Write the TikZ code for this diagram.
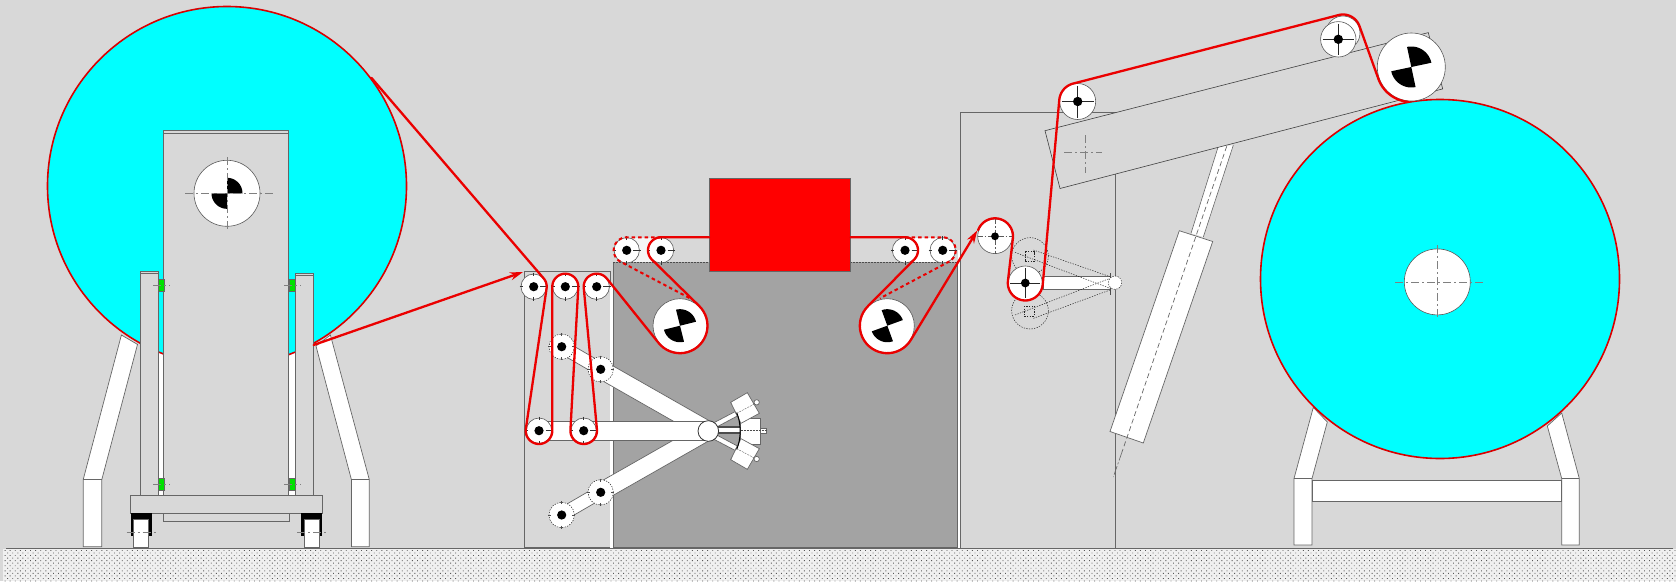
\documentclass[tikz,border=0pt]{standalone}
\usetikzlibrary{arrows.meta,patterns.meta}
\definecolor{bg}{HTML}{D8D8D8}
\definecolor{dark}{HTML}{A3A3A3}
\definecolor{edge}{HTML}{666666}
\definecolor{rollcy}{HTML}{00FFFF}
\definecolor{greenb}{HTML}{00E000}
\tikzset{
 belt/.style={draw=red!92!black,line width=2.3pt,line join=round,line cap=round},
 beltdash/.style={draw=red!92!black,line width=2pt,dash pattern=on 3.5pt off 3pt},
 rollline/.style={draw=red!85!black,line width=1.6pt},
 frame/.style={draw=edge,line width=.9pt},
 thinb/.style={draw=black!65,line width=.6pt},
 center/.style={draw=black!50,line width=.8pt,dash pattern=on 8pt off 3pt on 2pt off 3pt},
 ghost/.style={draw=black!85,line width=.5pt,dash pattern=on 1.3pt off 1.3pt},
 whitef/.style={fill=white,draw=edge,line width=.7pt},
 redarrow/.style={-{Stealth[length=13pt,width=8pt]}}
}
\def\arcs#1#2#3#4#5{plot[domain=#4:#5,samples=26,variable=\t] ({#1+#3*cos(\t)},{#2+#3*sin(\t)})}
\def\arcp#1#2#3#4#5{-- plot[domain=#4:#5,samples=26,variable=\t] ({#1+#3*cos(\t)},{#2+#3*sin(\t)})}
% small roller with outer ticks
\newcommand\rollerT[3]{%
 \fill[white] (#1,#2) circle (#3);
 \draw[thinb] (#1,#2) circle (#3);
 \draw[black!80,line width=.5pt] (#1-#3-1.5,#2)--(#1-#3+2,#2) (#1+#3-6,#2)--(#1+#3+1.5,#2) (#1,#2-#3-1.5)--(#1,#2-#3+2) (#1,#2+#3-2)--(#1,#2+#3+1.5);
 \fill[black] (#1,#2) circle (4.6);}
% roller with dotted outline, on an arm
\newcommand\rollerD[3]{%
 \fill[white] (#1,#2) circle (#3);
 \draw[ghost] (#1,#2) circle (#3);
 \draw[black!70,line width=.5pt] (#1-#3-1,#2)--(#1-#3+2,#2) (#1+#3-2,#2)--(#1+#3+1,#2) (#1,#2-#3-1)--(#1,#2-#3+2) (#1,#2+#3-2)--(#1,#2+#3+1);
 \fill[black] (#1,#2) circle (4.6);}
% roller with a full cross
\newcommand\rollerX[4]{%
 \fill[white] (#1,#2) circle (#3);
 \draw[thinb] (#1,#2) circle (#3);
 \draw[black!85,line width=.6pt] (#1-#3+2,#2)--(#1+#3-2,#2) (#1,#2-#3+2)--(#1,#2+#3-2);
 \fill[black] (#1,#2) circle (#4);}
% roller with a dashed cross
\newcommand\rollerC[4]{%
 \fill[white] (#1,#2) circle (#3);
 \draw[thinb] (#1,#2) circle (#3);
 \draw[draw=black!65,line width=.6pt,dash pattern=on 5pt off 2pt on 1.5pt off 2pt] (#1-#3,#2)--(#1+#3,#2) (#1,#2-#3)--(#1,#2+#3);
 \fill[black] (#1,#2) circle (#4);}
% big roller with two black quarters (start angle in screen degrees)
\newcommand\quarters[5]{%
 \fill[white] (#1,#2) circle (#3);
 \draw[thinb] (#1,#2) circle (#3);
 \fill[black] (#1,#2) \arcp{#1}{#2}{#4}{#5}{#5+90} -- cycle;
 \fill[black] (#1,#2) \arcp{#1}{#2}{#4}{#5+180}{#5+270} -- cycle;}
\begin{document}
\begin{tikzpicture}[x=1pt,y=-1pt]
\useasboundingbox (0,0) rectangle (1676,581);
\fill[bg] (0,0) rectangle (1676,581);
% ground
\fill[black!6] (3,549) rectangle (1676,581);
\fill[pattern={Dots[distance=3.6pt,radius=.62pt,angle=45]},pattern color=black!65] (3,549) rectangle (1676,581);
\draw[edge,line width=.9pt] (6,548)--(1673,548);

% ---------- left stand
\draw[whitef] (83.2,546.7)--(83.2,479.6)--(121.4,335)--(137.5,344.4)--(101.8,479.6)--(101.8,546.7)--cycle;
\draw[edge,line width=.7pt] (83.2,479.6)--(101.8,479.6);
\draw[whitef] (369.3,546.7)--(369.3,479.6)--(330.4,335)--(316,346)--(351.4,479.6)--(351.4,546.7)--cycle;
\draw[edge,line width=.7pt] (351.4,479.6)--(369.3,479.6);
\fill[white] (158.6,340) rectangle (163,495.6);
\fill[white] (288.6,340) rectangle (295.4,495.6);
% left roll
\fill[rollcy] (227,186) circle (179.5);
\draw[rollline] (227,186) circle (179.5);
% posts and door
\draw[frame,fill=bg] (140.7,495.6)--(140.7,271.5)--(158.6,271.5)--(158.6,495.6);
\draw[frame] (140.7,273.5)--(158.6,273.5);
\draw[frame,fill=bg] (295.4,495.6)--(295.4,273)--(313,273)--(313,495.6);
\draw[frame] (295.4,275)--(313,275);
\draw[frame,fill=bg] (163,495.6)--(163,130.4)--(288.6,130.4)--(288.6,495.6);
\draw[frame] (163,133.3)--(288.6,133.3);
\draw[frame,fill=bg] (130.7,495.6) rectangle (322.3,513.3);
\draw[frame] (163,513.3) rectangle (289,521.7);
% wheels
\fill[black] (130.7,513.3) rectangle (151.7,536);
\fill[black] (301.3,513.3) rectangle (322.3,536);
\fill[bg] (134,519) rectangle (148.5,536);
\fill[bg] (304.6,519) rectangle (319,536);
\draw[whitef] (133.7,519.3) rectangle (148.7,547.7);
\draw[whitef] (304.3,519.3) rectangle (319.3,547.7);
\draw[center] (126.7,532.7)--(156.7,532.7);
\draw[center] (297.3,532.7)--(327.7,532.7);
% green guides
\foreach \yy in {285,484.4}{
 \draw[draw=edge,fill=greenb,line width=.5pt] (158.2,\yy-6) rectangle (164,\yy+6);
 \draw[draw=edge,fill=greenb,line width=.5pt] (289.3,\yy-6) rectangle (295.4,\yy+6);
 \draw[center] (153,\yy)--(170,\yy);
 \draw[center] (284,\yy)--(301,\yy);
}
% core of left roll
\quarters{227}{193.3}{33}{15.5}{-90}
\draw[center] (185,193.3)--(272.5,193.3);
\draw[center] (227,157)--(227,230);

% ---------- middle machine
\draw[frame,fill=bg] (524.3,547.7)--(524.3,271.7)--(610,271.7)--(610,547.7)--cycle;
\fill[white] (610,285) rectangle (613.3,547.7);
\fill[dark] (613.3,262.3) rectangle (957.7,547.7);
\draw[frame] (613.3,262.3)--(613.3,547.7)--(957.7,547.7)--(957.7,262.3);
\draw[black!70,line width=.6pt,dash pattern=on 2pt off 1pt] (613.3,262.3)--(709.3,262.3) (850.3,262.3)--(957.7,262.3);
\fill[white] (957.7,250) rectangle (960.7,547.7);
% right box
\draw[frame,fill=bg] (960.7,547.7)--(960.7,112.6)--(1115.7,112.6)--(1115.7,547.7);
% white bands between the rollers of the top row
\fill[black!4] (626.7,238) rectangle (661,262);
\fill[white] (905,238) rectangle (943,262);
% red block
\draw[draw=edge,fill=red,line width=.7pt] (709.3,178.3) rectangle (850.3,271);
% arms
\begin{scope}[shift={(510,160)},scale=.33333]
 \draw[whitef] (165,543)--(282,611)--(262,645)--(145,577)--cycle;
 \draw[whitef] (165,1081)--(282,1013)--(262,979)--(145,1047)--cycle;
 \draw[whitef] (285,604)--(608,788)--(582,836)--(259,652)--cycle;
 \draw[whitef] (285,1020)--(608,836)--(582,788)--(259,972)--cycle;
 \draw[whitef] (87,785) rectangle (595,840);
\end{scope}
\begin{scope}[shift={(640,370)},scale=.33333]
 \draw[whitef] (222,158)--(285,125)--(292,138)--(232,170)--cycle;
 \draw[whitef] (222,208)--(285,241)--(292,228)--(232,196)--cycle;
 \fill[black!70] (235,168) rectangle (302,192);
 \fill[white] (235,175) rectangle (302,185);
 \draw[whitef] (362,175) rectangle (380,190);
 \draw[whitef] (302,145) rectangle (362,222);
 \draw[black!70,line width=.4pt,dash pattern=on 2pt off 1pt] (302,182)--(380,182);
 \draw[whitef] (272,97)--(322,68)--(358,130)--(303,160)--cycle;
 \draw[whitef] (272,269)--(322,298)--(358,236)--(303,206)--cycle;
 \draw[black!60,line width=.4pt,dash pattern=on 2pt off 1pt] (290,130)--(343,102) (290,236)--(343,264);
 \draw[whitef] (350,97) circle (8);
 \draw[whitef] (350,267) circle (8);
 \draw[black,line width=1pt] (290,128) .. controls (304,160) and (304,206) .. (290,238);
\end{scope}
\draw[draw=black!80,fill=white,line width=.8pt] (708.3,431) circle (10.3);
% rollers
\rollerT{533.7}{286.7}{12.7}
\rollerT{565.3}{286.7}{12.7}
\rollerT{596.7}{286.7}{12.7}
\rollerT{539}{430.7}{12.7}
\rollerT{583.7}{430.7}{12.7}
\rollerT{626.7}{250.3}{12.7}
\rollerT{661}{250.3}{12.7}
\rollerT{905}{250.3}{12.7}
\rollerT{942.7}{250.3}{12.7}
\rollerD{561.7}{346.7}{12.7}
\rollerD{600.7}{369.3}{12.7}
\rollerD{561.7}{515}{12.7}
\rollerD{600.7}{492.3}{12.7}
\quarters{680}{325.7}{27}{16.5}{-104}
\quarters{887.3}{325.7}{27}{16.5}{-110}

% ---------- right machine
\begin{scope}[shift={(980,220)},scale=.33333]
 \draw[edge,fill=white,line width=.6pt] (190,170) rectangle (392,208);
 \draw[ghost] (150,108) circle (55);
 \draw[ghost] (150,272) circle (55);
 \draw[ghost] (135,95) rectangle (162,125);
 \draw[ghost] (132,258) rectangle (162,288);
 \draw[ghost] (105,97)--(390,205) (160,90)--(390,170);
 \draw[ghost] (105,285)--(390,175) (160,295)--(390,210);
 \draw[black!70,line width=.6pt] (392,160)--(392,225);
 \draw[ghost,fill=white] (405,188) circle (20);
\end{scope}
% tilted cylinder
\fill[white] (1191,233.3)--(1218.3,146.3)--(1233.3,145.2)--(1203.3,237)--cycle;
\draw[edge,line width=.6pt] (1191,233.3)--(1218.3,146.3) (1233.3,145.2)--(1203.3,237);
\draw[edge,line width=.7pt,fill=white] (1179.3,230.7)--(1212.7,241.5)--(1143.3,443)--(1110,431.5)--cycle;
\draw[edge,line width=.7pt,dash pattern=on 5pt off 3pt] (1226.7,146.3)--(1122,452);
\draw[edge,line width=.6pt,dash pattern=on 9pt off 2pt on 2pt off 2pt] (1122,452)--(1113.3,477);
% tilting arm
\draw[draw=black!75,fill=bg,line width=.6pt] (1045,130.7)--(1428.3,32.6)--(1442.7,88.9)--(1060,188.5)--cycle;
\draw[center] (1064,152.5)--(1102,152.5);
\draw[center] (1085.7,135)--(1085.7,173);
% right stand
\draw[whitef] (1294,545)--(1294,478.5)--(1313.3,407.4)--(1327.3,422)--(1312,478.5)--(1312,545)--cycle;
\draw[edge,line width=.7pt] (1294,478.5)--(1312,478.5);
\draw[whitef] (1579.3,545)--(1579.3,478.5)--(1561.7,413)--(1547.3,426)--(1561.7,478.5)--(1561.7,545)--cycle;
\draw[edge,line width=.7pt] (1561.7,478.5)--(1579.3,478.5);
\draw[whitef] (1312.7,480.4) rectangle (1561.7,501);
% right roll
\fill[rollcy] (1440,279) circle (179.5);
\draw[rollline] (1440,279) circle (179.5);
\fill[white] (1437.3,281.9) circle (33);
\draw[thinb] (1437.3,281.9) circle (33);
\draw[center] (1395,281.9)--(1482.7,281.9);
\draw[center] (1437.3,245)--(1437.3,318.5);
% right rollers
\rollerC{995}{236.3}{17.3}{3.9}
\rollerX{1025.3}{283}{17}{4.4}
\rollerX{1077.7}{101.5}{18}{4.7}
\draw[thinb,fill=white] (1343,33) circle (17);
\rollerX{1338.3}{39.3}{17.7}{4.7}
\quarters{1411.3}{67}{34}{20.5}{-102}

% ---------- belt
\draw[belt] (371.4,77.8)--(543.5,278.2) \arcp{533.7}{286.7}{13}{-41}{8.4}
 \arcp{539}{430.7}{13.3}{188.4}{0}
 \arcp{565.3}{286.7}{13}{180}{363.2}
 \arcp{583.7}{430.7}{13.3}{183.2}{-5.3}
 \arcp{596.7}{286.7}{13}{174.7}{321.2}
 \arcp{680}{325.7}{27.5}{141.2}{-45.5}
 \arcp{661}{250.3}{13}{134.5}{270}
 -- (709.3,237.3);
\draw[belt,redarrow] (313.6,345)--(523,272);
\draw[belt,redarrow] (850.3,237.3)--(905,237.3) \arcp{905}{250.3}{13}{270}{404.8}
 \arcp{887.3}{325.7}{27.5}{224.8}{31.3}
 -- (977.3,230.4);
\draw[beltdash] (661,237.3)--(626.7,237.3) \arcp{626.7}{250.3}{13}{270}{117.6} -- (690,298.3);
\draw[beltdash] (905,237.3)--(942.7,237.3) \arcp{942.7}{250.3}{13}{-90}{62} -- (880,298.3);
\draw[belt] \arcs{995}{236.3}{18}{200}{366.6}
 \arcp{1025.3}{283}{17.5}{186.6}{5.1}
 \arcp{1077.7}{101.5}{18.5}{185.1}{255.4}
 \arcp{1343}{32}{17.5}{255.4}{340.3}
 \arcp{1411.3}{67}{35}{160.3}{95};
\end{tikzpicture}
\end{document}
